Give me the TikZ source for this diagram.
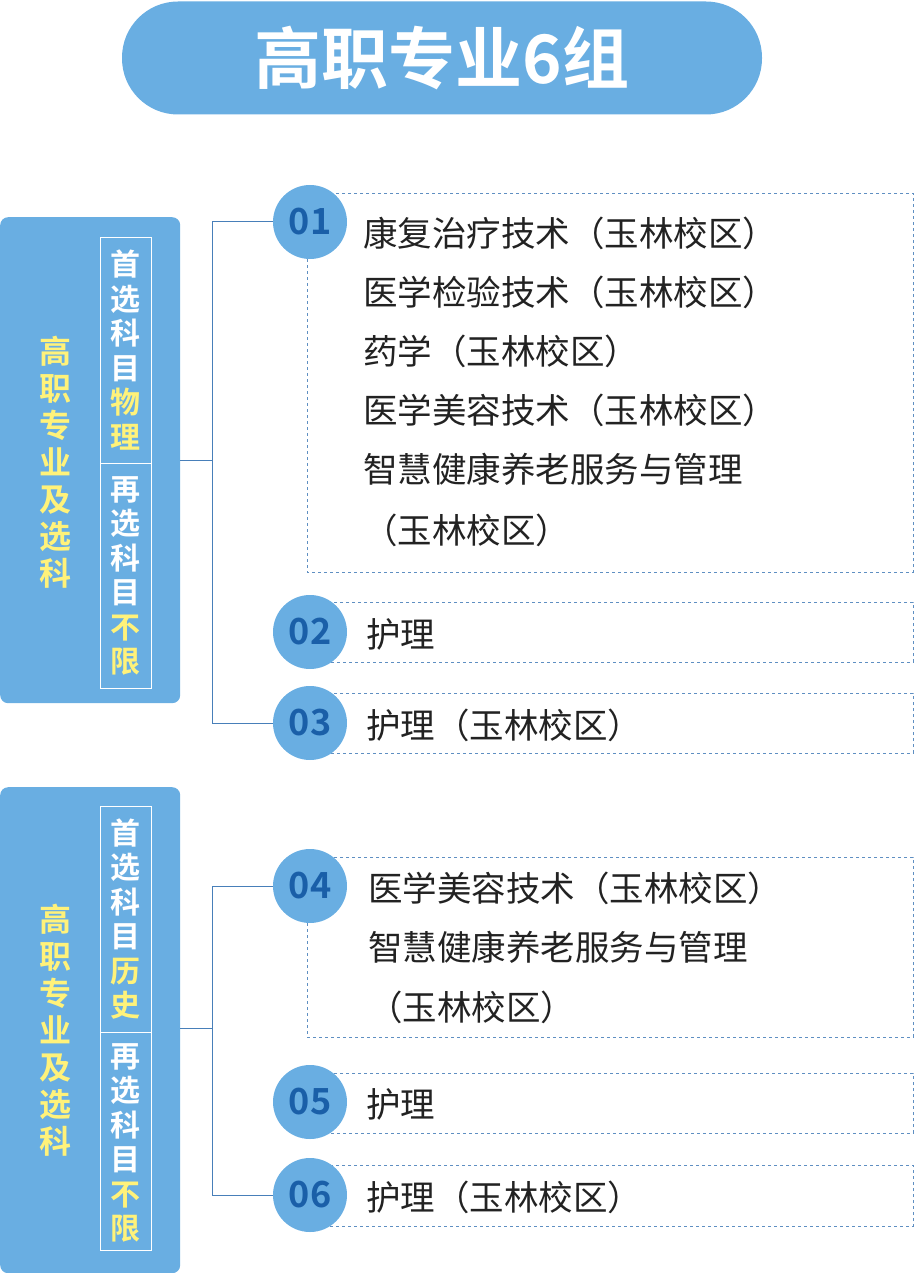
\documentclass[tikz,border=0pt]{standalone}
\usepackage{fontspec}
\newfontfamily\cjk{Noto Sans CJK SC}
\newfontfamily\cjkb{Noto Sans CJK SC Bold}
\definecolor{bl}{HTML}{69AEE2}
\definecolor{dbl}{HTML}{1A5FA8}
\definecolor{yl}{HTML}{FFF27A}
\definecolor{tx}{HTML}{222222}
\newcommand{\W}[1]{\textcolor{white}{#1}}
\newcommand{\Y}[1]{\textcolor{yl}{#1}}
\begin{document}
\begin{tikzpicture}[x=1pt,y=-1pt,
  num/.style={circle,fill=bl,minimum size=74pt,inner sep=0pt,font=\cjkb\fontsize{36}{36}\selectfont,text=dbl},
  dbox/.style={draw=dbl!70,dashed,line width=0.8pt},
  line/.style={draw=dbl!80,line width=1pt},
  item/.style={anchor=west,font=\cjk\fontsize{34.5}{34.5}\selectfont,text=tx,inner sep=0pt},
  side/.style={fill=bl,rounded corners=8pt},
  vt/.style={font=\cjkb\fontsize{30}{34.5}\selectfont,align=center,inner sep=0pt},
  vtb/.style={font=\cjkb\fontsize{32}{37}\selectfont,align=center,inner sep=0pt}]
\useasboundingbox (0,0) rectangle (914,1273);
\node[fill=bl,rounded corners=56pt,minimum width=640pt,minimum height=113pt,font=\cjkb\fontsize{67}{67}\selectfont,text=white] (title) at (442,58) {高职专业6组};
% group 1
\node[side,minimum width=180pt,minimum height=486pt,anchor=north west] (g1) at (0,217) {};
\node[vtb,text=yl] (g1t) at (55,462) {高\\职\\专\\业\\及\\选\\科};
\node[draw=white,line width=1pt,minimum width=51pt,minimum height=451pt,anchor=north west] (g1i) at (100,237) {};
\draw[white,line width=1pt] (100,463) -- (151,463);
\node[vt] (g1a) at (125.5,350) {\W{首}\\\W{选}\\\W{科}\\\W{目}\\\Y{物}\\\Y{理}};
\node[vt] (g1b) at (125.5,576) {\W{再}\\\W{选}\\\W{科}\\\W{目}\\\Y{不}\\\Y{限}};
\draw[dbox] (307,193) rectangle (913,572);
\draw[dbox] (307,602) rectangle (913,662);
\draw[dbox] (307,693) rectangle (913,753);
\node[num] (n1) at (310,222) {01};
\node[num] (n2) at (310,632) {02};
\node[num] (n3) at (310,723) {03};
\coordinate (j1) at (212,460);
\draw[line] (g1.east |- j1) -- (j1);
\draw[line] (n1.west) -- (212,222) -- (212,723) -- (n3.west);
\node[item] at (363,233) {康复治疗技术（玉林校区）};
\node[item] at (363,292) {医学检验技术（玉林校区）};
\node[item] at (363,351) {药学（玉林校区）};
\node[item] at (363,410) {医学美容技术（玉林校区）};
\node[item] at (363,469) {智慧健康养老服务与管理};
\node[item] at (363,530) {（玉林校区）};
\node[item] at (366,634) {护理};
\node[item] at (366,725) {护理（玉林校区）};
% group 2
\node[side,minimum width=180pt,minimum height=486pt,anchor=north west] (g2) at (0,787) {};
\node[vtb,text=yl] (g2t) at (55,1030) {高\\职\\专\\业\\及\\选\\科};
\node[draw=white,line width=1pt,minimum width=51pt,minimum height=444pt,anchor=north west] (g2i) at (100,806) {};
\draw[white,line width=1pt] (100,1032) -- (151,1032);
\node[vt] (g2a) at (125.5,919) {\W{首}\\\W{选}\\\W{科}\\\W{目}\\\Y{历}\\\Y{史}};
\node[vt] (g2b) at (125.5,1143) {\W{再}\\\W{选}\\\W{科}\\\W{目}\\\Y{不}\\\Y{限}};
\draw[dbox] (307,857) rectangle (913,1037);
\draw[dbox] (307,1073) rectangle (913,1133);
\draw[dbox] (307,1165) rectangle (913,1226);
\node[num] (n4) at (310,886) {04};
\node[num] (n5) at (310,1102) {05};
\node[num] (n6) at (310,1195) {06};
\coordinate (j2) at (212,1028);
\draw[line] (g2.east |- j2) -- (j2);
\draw[line] (n4.west) -- (212,886) -- (212,1195) -- (n6.west);
\node[item] at (368,888) {医学美容技术（玉林校区）};
\node[item] at (368,947) {智慧健康养老服务与管理};
\node[item] at (368,1007) {（玉林校区）};
\node[item] at (366,1104) {护理};
\node[item] at (366,1197) {护理（玉林校区）};
\end{tikzpicture}
\end{document}
